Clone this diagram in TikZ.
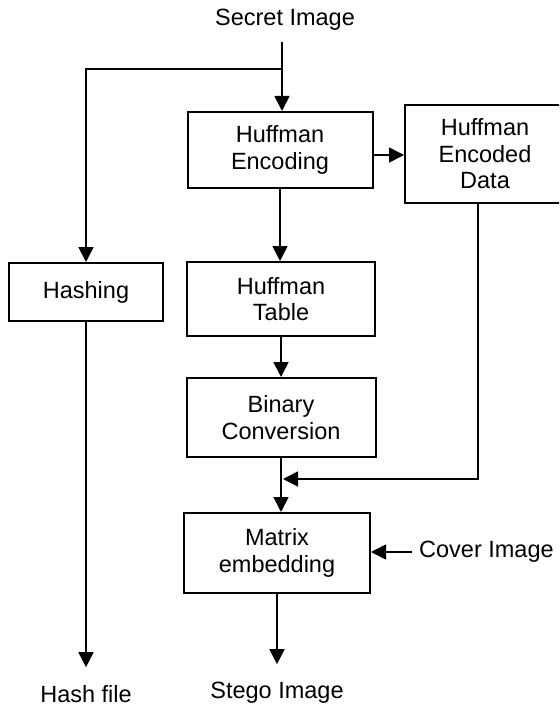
\documentclass[tikz,border=0pt]{standalone}
\usepackage{fontspec}
\setmainfont{Liberation Sans}
\usetikzlibrary{arrows.meta}
\begin{document}
\begin{tikzpicture}[x=1pt,y=-1pt,
  box/.style={draw, line width=2pt, align=center, inner sep=0pt,
    font=\fontsize{23.5}{26.5}\selectfont},
  lbl/.style={inner sep=0pt, font=\fontsize{23.5}{26.5}\selectfont},
  arr/.style={line width=1.7pt, -{Triangle[length=15pt,width=15pt]}}]
\useasboundingbox (0,0) rectangle (559,706);
\clip (0,0) rectangle (559,706);
% nodes
\node[lbl] (secret) at (285,20) {Secret Image};
\node[box, minimum width=185pt, minimum height=76pt] (enc) at (280,150) {Huffman\\Encoding};
\node[box, minimum width=160pt, minimum height=98pt] (data) at (485,154) {Huffman\\Encoded\\Data};
\node[box, minimum width=154pt, minimum height=58pt] (hash) at (86,292) {Hashing};
\node[box, minimum width=188pt, minimum height=74pt] (table) at (281,299) {Huffman\\Table};
\node[box, minimum width=189pt, minimum height=79pt] (bin) at (281,417.5) {Binary\\Conversion};
\node[box, minimum width=186pt, minimum height=80pt] (mat) at (277,553) {Matrix\\embedding};
\node[lbl, anchor=west] (cover) at (419,552) {Cover Image};
\node[lbl] (stego) at (277,693) {Stego Image};
\node[lbl] (hashfile) at (86,694) {Hash file};
\coordinate (split) at (282,69);
% connectors
\draw[arr, shorten <=11pt] (split |- secret.south) -- (split |- enc.north);
\draw[arr] (split) -| (hash.north);
\draw[arr] ([yshift=-5pt]enc.east) -- ([yshift=-5pt]enc.east -| data.west);
\draw[arr] (enc.south) -- (enc.south |- table.north);
\draw[arr] (table.south) -- (table.south |- bin.north);
\draw[arr] (bin.south) -- (bin.south |- mat.north);
\coordinate (join) at (283,479);
\draw[arr] ([xshift=-7pt]data.south) |- (join);
\draw[arr] ([xshift=-7pt]cover.west) -- (mat.east |- cover.west);
\draw[arr] (mat.south) -- ([yshift=18pt]stego.north);
\draw[arr] (hash.south) -- ([yshift=18pt]hashfile.north);
\end{tikzpicture}
\end{document}
